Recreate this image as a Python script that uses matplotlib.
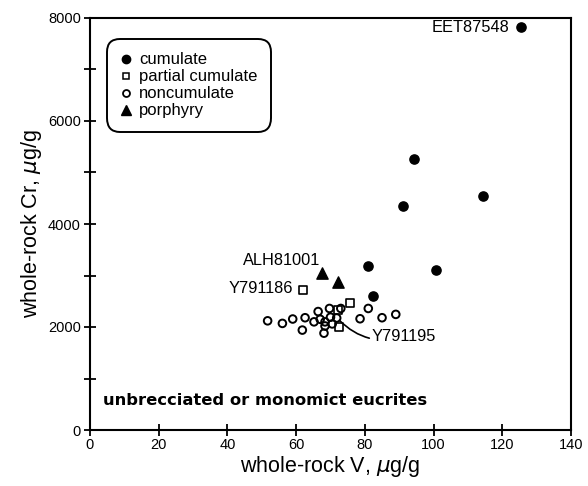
import matplotlib
matplotlib.use("Agg")
import matplotlib.pyplot as plt
from matplotlib.lines import Line2D

plt.rcParams['font.family'] = ['Liberation Sans', 'DejaVu Sans']

# whole-rock V (ug/g) and Cr (ug/g) by petrologic type
cumulate_v = [125.5, 94.3, 114.4, 91.1, 81.0, 100.7, 82.4]
cumulate_cr = [7830, 5260, 4550, 4350, 3180, 3100, 2600]

partial_v = [62.0, 75.7, 72.2, 72.5]
partial_cr = [2720, 2470, 2330, 2000]

noncum_v = [51.7, 56.0, 59.0, 62.6, 61.8, 65.2, 66.4, 67.0, 68.4, 68.4,
            68.1, 69.7, 70.0, 70.5, 73.0, 71.8, 78.6, 81.0, 85.0, 89.0]
noncum_cr = [2120, 2070, 2155, 2180, 1940, 2100, 2300, 2150, 2100, 2020,
             1880, 2360, 2190, 2060, 2360, 2175, 2160, 2360, 2180, 2245]

porph_v = [67.5, 72.2]
porph_cr = [3050, 2870]

fig = plt.figure(figsize=(5.88, 4.86), dpi=100)
ax = fig.add_axes([90/588, 1 - 430/486, 481/588, 412/486])

ax.scatter(cumulate_v, cumulate_cr, s=44, c='black', marker='o', zorder=3)
ax.scatter(partial_v, partial_cr, s=30, facecolors='white', edgecolors='black',
           marker='s', linewidths=1.2, zorder=3)
ax.scatter(noncum_v, noncum_cr, s=30, facecolors='none', edgecolors='black',
           marker='o', linewidths=1.4, zorder=3)
ax.scatter(porph_v, porph_cr, s=66, c='black', marker='^', zorder=3)

ax.set_xlim(0, 140)
ax.set_ylim(0, 8000)
ax.set_xticks(range(0, 141, 20))
ax.set_yticks(range(0, 8001, 1000))
ax.set_yticklabels([str(v) if v % 2000 == 0 else '' for v in range(0, 8001, 1000)])
ax.tick_params(direction='inout', length=9, width=1.3, labelsize=10.5, pad=2)
ax.tick_params(axis='x', pad=1)
for sp in ax.spines.values():
    sp.set_linewidth(1.5)

ax.set_xlabel('whole-rock V, $\\mu$g/g', fontsize=15.5, labelpad=2)
ax.set_ylabel('whole-rock Cr, $\\mu$g/g', fontsize=15.5, labelpad=3)

# sample labels
ax.text(122.2, 7825, 'EET87548', ha='right', va='center', fontsize=11.8)
ax.text(66.9, 3300, 'ALH81001', ha='right', va='center', fontsize=11.8)
ax.text(59.1, 2738, 'Y791186', ha='right', va='center', fontsize=11.8)
ax.annotate('Y791195', xy=(72.3, 2150), xytext=(82.1, 1806),
            ha='left', va='center', fontsize=11.8,
            arrowprops=dict(arrowstyle='-', lw=1.2, color='black',
                            shrinkA=0, shrinkB=1,
                            connectionstyle='arc3,rad=-0.3'))

ax.text(3.8, 427, 'unbrecciated or monomict eucrites', ha='left', va='bottom',
        fontsize=11.8, fontweight='bold', family='DejaVu Sans')

handles = [
    Line2D([], [], ls='none', marker='o', color='black', markersize=6),
    Line2D([], [], ls='none', marker='s', mfc='white', mec='black', markersize=5, mew=1.1),
    Line2D([], [], ls='none', marker='o', mfc='white', mec='black', markersize=5, mew=1.3),
    Line2D([], [], ls='none', marker='^', color='black', markersize=7),
]
labels = ['cumulate', 'partial cumulate', 'noncumulate', 'porphyry']
leg = ax.legend(handles, labels, loc='upper left', bbox_to_anchor=(0.035, 0.949),
                borderaxespad=0, frameon=True, fancybox=True, fontsize=12,
                handlelength=0.7, handletextpad=0.45, labelspacing=0.12,
                borderpad=0.8, edgecolor='black', framealpha=1)
leg.get_frame().set_linewidth(1.4)
leg.get_frame().set_boxstyle('round', pad=0, rounding_size=0.8)

fig.savefig('out.png', dpi=100)
